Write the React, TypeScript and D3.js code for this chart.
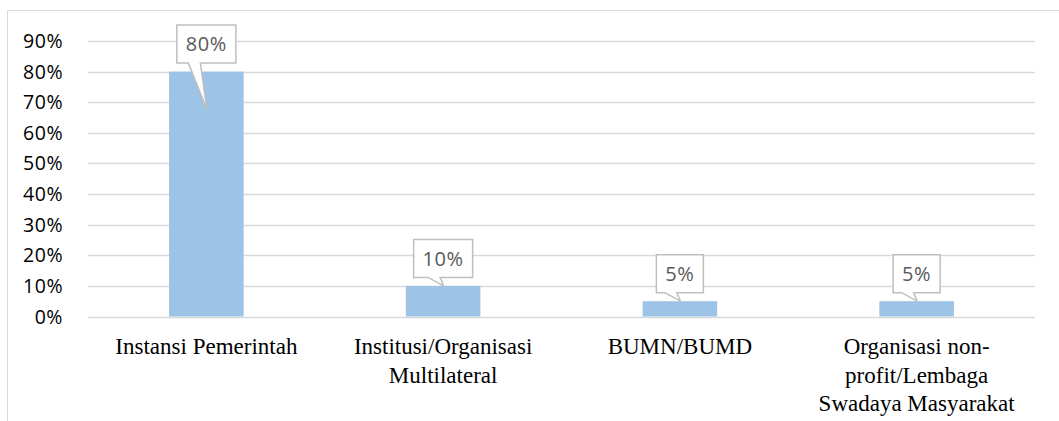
import React from "react";
import * as d3 from "d3";

const categories: string[][] = [
  ["Instansi Pemerintah"],
  ["Institusi/Organisasi", "Multilateral"],
  ["BUMN/BUMD"],
  ["Organisasi non-", "profit/Lembaga", "Swadaya Masyarakat"],
];
const values: number[] = [0.8, 0.1, 0.05, 0.05];
const labels: string[] = ["80%", "10%", "5%", "5%"];
const yTicks: number[] = [0, 0.1, 0.2, 0.3, 0.4, 0.5, 0.6, 0.7, 0.8, 0.9];

const W = 1059;
const H = 421;
const plot = { left: 88, right: 1035, top: 41, bottom: 316.5 };

export default function App() {
  const x = d3
    .scaleBand<number>()
    .domain(values.map((_, i) => i))
    .range([plot.left, plot.right])
    .padding(0);
  const y = d3.scaleLinear().domain([0, 0.9]).range([plot.bottom, plot.top]);
  const barW = x.bandwidth() * 0.315;
  const fmt = d3.format(".0%");

  return (
    <svg
      width={W}
      height={H}
      style={{ position: "absolute", left: 0, top: 0, background: "#fff" }}
    >
      <rect x={7.5} y={10.5} width={W + 10} height={H + 10} fill="#fff" stroke="#d9d9d9" strokeWidth={1} />
      {yTicks.map((t) => (
        <g key={t}>
          <line
            x1={plot.left}
            x2={plot.right}
            y1={Math.round(y(t)) + 0.5}
            y2={Math.round(y(t)) + 0.5}
            stroke="#d9d9d9"
            strokeWidth={1.3}
          />
          <text
            x={63}
            y={y(t)}
            dy="0.36em"
            textAnchor="end"
            fontFamily="'Open Sans', sans-serif"
            fontSize={19.5}
            letterSpacing={0.5}
            fill="#000"
          >
            {fmt(t)}
          </text>
        </g>
      ))}
      {values.map((v, i) => {
        const cx = (x(i) as number) + x.bandwidth() / 2;
        return (
          <rect
            key={i}
            x={cx - barW / 2}
            y={y(v)}
            width={barW}
            height={y(0) - y(v)}
            fill="#9dc3e6"
          />
        );
      })}
      {values.map((v, i) => {
        const cx = (x(i) as number) + x.bandwidth() / 2;
        const boxW = labels[i].length > 2 ? 59 : 47;
        const boxH = 38;
        const bottom = y(v) - 8.5;
        const top = bottom - boxH;
        const left = cx - boxW / 2;
        const right = cx + boxW / 2;
        const deep = v > 0.5;
        const tipY = deep ? y(v) + 38 : y(v);
        const tipX = cx + 0.5;
        const b1 = deep ? cx - 18 : cx - 15;
        const b2 = deep ? cx - 6 : cx - 3;
        const path = `M${left},${top} H${right} V${bottom} H${b2} L${tipX},${tipY} L${b1},${bottom} H${left} Z`;
        return (
          <g key={"l" + i}>
            <path d={path} fill="#fff" stroke="#bfbfbf" strokeWidth={1.5} strokeLinejoin="miter" />
            <text
              x={cx}
              y={top + boxH / 2}
              dy="0.36em"
              textAnchor="middle"
              fontFamily="'Open Sans', sans-serif"
              fontSize={20}
              letterSpacing={0.6}
              fill="#595959"
            >
              {labels[i]}
            </text>
          </g>
        );
      })}
      {categories.map((lines, i) => {
        const cx = (x(i) as number) + x.bandwidth() / 2;
        return (
          <text
            key={"c" + i}
            textAnchor="middle"
            fontFamily="'Liberation Serif', 'Times New Roman', serif"
            fontSize={23}
            fill="#000"
          >
            {lines.map((ln, j) => (
              <tspan key={j} x={cx} y={354 + j * 28.5}>
                {ln}
              </tspan>
            ))}
          </text>
        );
      })}
    </svg>
  );
}
